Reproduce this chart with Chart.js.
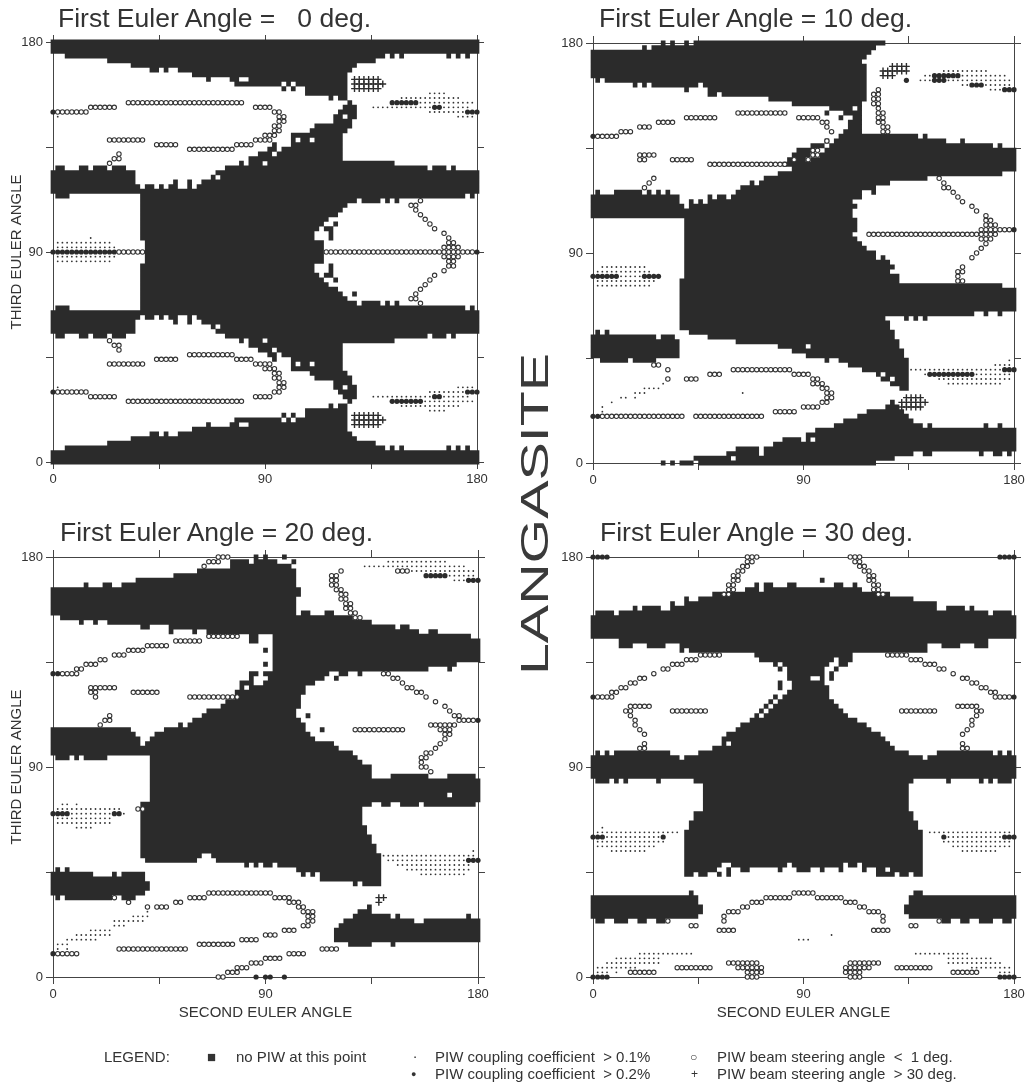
<!DOCTYPE html>
<html>
<head>
<meta charset="utf-8">
<title>Langasite PIW</title>
<script src="https://cdn.jsdelivr.net/npm/chart.js@4"></script>
<style>
  body { margin: 0; background: #fff; width: 1032px; height: 1086px; position: relative; overflow: hidden;
         font-family: "Liberation Sans", Arial, sans-serif; color: #333; filter: blur(0.4px); }
  canvas { position: absolute; }
  .head { position: absolute; font-size: 26.5px; line-height: 30px; white-space: pre; }
  .side { position: absolute; left: 535px; top: 513.5px; font-size: 38px; line-height: 38px; white-space: pre; color: #3a3a3a;
          transform: translate(-50%, -50%) rotate(-90deg) scaleX(1.51); }
  .key { position: absolute; font-size: 15px; line-height: 14px; white-space: pre; }
</style>
</head>
<body>
<div class="head" style="left:58px;top:3px">First Euler Angle =   0 deg.</div>
<div class="head" style="left:599px;top:3px">First Euler Angle = 10 deg.</div>
<div class="head" style="left:60px;top:517px">First Euler Angle = 20 deg.</div>
<div class="head" style="left:600px;top:517px">First Euler Angle = 30 deg.</div>
<div class="side">LANGASITE</div>
<div class="key" style="left:104px;top:1050px">LEGEND:</div>
<div class="key" style="left:207px;top:1050px">■</div>
<div class="key" style="left:236px;top:1050px">no PIW at this point</div>
<div class="key" style="left:413px;top:1046px">.</div>
<div class="key" style="left:435px;top:1050px">PIW coupling coefficient  &gt; 0.1%</div>
<div class="key" style="left:411px;top:1067px;font-size:9px">●</div>
<div class="key" style="left:435px;top:1067px">PIW coupling coefficient  &gt; 0.2%</div>
<div class="key" style="left:690px;top:1050px;font-size:12px">○</div>
<div class="key" style="left:717px;top:1050px">PIW beam steering angle  &lt;  1 deg.</div>
<div class="key" style="left:691px;top:1067px;font-size:12px">+</div>
<div class="key" style="left:717px;top:1067px">PIW beam steering angle  &gt; 30 deg.</div>
<canvas id="p0"></canvas>
<canvas id="p1"></canvas>
<canvas id="p2"></canvas>
<canvas id="p3"></canvas>
<script>
const labeledAngles = [0, 90, 180];

// no PIW cells: [third from, third to, second start, second end, start, end ...], cells every 2 deg
const dark0 = [
  [180,176,-1,181],[174,174,5,141,143,145,147,149,167,169,171,173,175,177],[172,172,23,137],[170,170,33,129],
  [168,168,41,45,47,49,53,127],[166,166,59,125],[164,164,65,67,75,79,83,125],[162,162,77,97,99,101,103,125],
  [160,160,97,99,101,103,107,125],[158,158,107,125],[156,156,117,119,121,125],[154,154,125,127],[152,152,123,129],
  [150,150,121,129],[148,148,119,123,125,129],[146,146,119,127],[144,144,111,127],[142,142,109,125],[140,140,101,123],
  [138,138,101,103,105,109,111,123],[136,136,93,95,101,123],[134,134,91,95,97,123],[132,132,87,93,95,123],[130,130,83,123],
  [128,128,79,81,83,89,91,145],[126,126,1,5,11,15,17,23,25,31,73,159,161,167,169,171],[124,124,-1,35,69,181],
  [122,122,-1,35,67,69,71,181],[120,120,-1,35,51,53,57,59,63,181],[118,118,-1,37,39,43,45,47,49,53,57,59,61,181],
  [116,116,-1,181],[114,114,1,7,37,175,177,179],[112,112,37,129,131,139,141,143,145,147],[110,110,37,125],[108,108,37,123],
  [106,106,37,121],[104,104,37,117],[102,102,37,115,119,121],[100,100,37,113,115,119],[98,96,37,111,117,119],[94,86,39,115],
  [84,82,37,111,117,119],[80,80,37,113,115,119],[78,78,37,115,119,121],[76,76,37,117],[74,74,37,121],[72,72,37,123,127,129],
  [70,70,37,125],[68,68,37,129,131,139,141,143,145,147],[66,66,1,7,37,175,177,179],[64,64,-1,181],
  [62,62,-1,37,39,43,45,47,49,53,57,59,61,181],[60,60,-1,35,51,53,57,59,63,181],[58,58,-1,35,67,69,71,181],[56,56,-1,35,69,181],
  [54,54,1,5,11,15,17,23,25,31,73,159,161,167,169,171],[52,52,79,81,83,89,91,145],[50,50,83,123],[48,48,87,93,95,123],
  [46,46,91,95,97,123],[44,44,93,95,101,123],[42,42,101,103,105,109,111,123],[40,40,101,123],[38,38,109,125],[36,36,111,127],
  [34,34,119,127],[32,32,119,123,125,129],[30,30,121,129],[28,28,123,129],[26,26,125,127],[24,24,117,119,121,125],[22,22,107,125],
  [20,20,97,99,101,103,107,125],[18,18,77,97,99,101,103,125],[16,16,65,67,75,79,83,125],[14,14,59,125],[12,12,41,45,47,49,53,127],
  [10,10,33,129],[8,8,23,137],[6,6,5,141,143,145,147,149,167,169,171,173,175,177],[4,0,-1,181]
];
const dark1 = [
  [180,180,29,31,33,35,39,41,43,125],[178,178,21,23,25,121],[176,176,-1,119],[174,174,-1,117],[172,172,-1,115],[170,166,-1,117],
  [164,164,1,3,5,117],[162,162,17,19,21,23,25,45,47,117],[160,160,39,41,49,117],[158,158,49,53,55,117],[156,156,75,117],
  [154,154,85,115],[152,152,101,111,113,115],[150,150,99,101,107,115],[148,148,105,107,111,115],[146,144,109,115],[142,142,107,115],
  [140,140,105,139,141,143],[138,138,99,101,103,151,157,159],[136,136,93,99,101,171,173,175],[134,134,87,95,99,181],
  [132,132,85,93,97,181],[130,130,83,91,93,181],[128,128,81,181],[126,126,85,181],[124,124,79,175],[122,122,73,143],
  [120,120,67,69,71,127],[118,118,63,121],[116,116,1,3,9,21,23,25,27,29,31,33,61,115,119,121],[114,114,-1,37,49,51,53,57,59,115],
  [112,112,-1,37,41,43,45,47,49,111],[110,110,-1,39,41,113],[108,106,-1,111],[104,100,39,113],[98,98,39,111],[96,96,39,113],
  [94,94,39,115],[92,92,39,117],[90,90,39,121],[88,88,39,121,123,125],[86,86,39,127],[84,84,39,129],[82,82,39,127],[80,80,39,131],
  [78,78,37,131],[76,76,37,175],[74,66,37,181],[64,64,37,163,167,169,173,175],[62,62,37,125,133,135,137,139,141,143],[60,58,37,127],
  [56,56,1,3,5,7,41,129],[54,54,-1,27,29,35,49,129],[52,52,-1,37,61,131],[50,50,-1,37,79,91,93,131],[48,48,-1,37,85,133],
  [46,46,-1,37,91,133],[44,44,3,15,17,27,99,101,105,135],[42,42,109,135],[40,40,115,135],[38,38,121,123,125,135],
  [36,36,123,127,129,135],[34,34,127,135],[32,32,131,135],[26,26,127,129],[24,24,125,131],[22,22,117,133],[20,20,113,135],
  [18,18,107,137],[16,16,103,141,143,145,167,169,173,175],[14,14,95,181],[12,12,91,181],[10,10,81,89,91,93,95,181],[8,8,77,181],
  [6,6,61,71,73,181],[4,4,57,71,73,137,141,145,165,167,171,175,177,179],[2,2,43,59,61,129],[0,0,29,31,33,35,37,43,45,121]
];
const dark2 = [
  [180,180,85,87,89,91,97,99],[178,178,75,83,85,95,101,103],[176,176,75,101],[174,174,61,103],[172,172,51,103],[170,170,35,103],
  [168,168,13,15,21,25,29,103],[166,164,-1,105],[162,158,-1,103],[156,156,-1,103,105,109,115,119],[154,154,3,127],
  [152,152,11,13,17,19,23,135],[150,150,37,41,49,145,147,151],[148,148,49,51,59,61,65,155,159,163],[146,146,83,87,93,177],
  [144,144,83,87,93,181],[142,142,93,181],[140,140,89,91,93,181],[138,136,93,181],[134,134,89,91,93,171],[132,132,93,159,167,169],
  [130,130,83,87,89,117,121,125,129,131],[128,128,83,85,91,115,119,121],[126,126,79,85,89,111],[124,124,79,81,83,107],[122,122,77,107],
  [120,120,77,105],[118,118,73,105],[116,116,71,105],[114,114,65,103],[112,112,63,103,107,109],[110,110,59,105],[108,108,53,55,57,107],
  [106,106,-1,33,47,107,113,115],[104,104,-1,35,43,109],[102,102,-1,37,41,111],[100,100,-1,37,39,119],[98,98,-1,121],[96,96,-1,127],
  [94,94,1,7,9,11,13,23,41,129],[92,92,41,131],[90,88,41,135],[86,86,41,135,143,159,167,179],[84,80,41,181],[78,78,41,167,169,181],
  [76,76,41,181],[74,74,37,135,139,143,147,155,157,179],[72,66,37,131],[64,62,37,133],[60,58,37,135],[56,54,37,137],
  [52,52,37,63,67,139],[50,50,39,61,69,139],[48,48,81,83,85,87,89,93,95,139],[46,46,1,3,5,7,103,139],
  [44,44,-1,17,25,27,29,39,105,107,109,111,113,139],[42,42,-1,39,113,139],[40,40,-1,41,127,129,131,139],[38,38,-1,41],[36,36,-1,39],
  [34,34,1,3,5,25,29,35],[30,30,133,135],[28,28,129,135],[26,26,127,143,145,147,175,177],[24,24,123,153,157,181],[22,22,121,181],
  [20,16,119,181],[14,14,125,135,143,145]
];
const dark3 = [
  [170,170,97,99],[168,168,69,71,73,77,83,87,103,107,111,113],[166,166,65,71,73,115],[164,164,51,127],[162,162,39,41,45,137],
  [160,160,33,35,39,147],[158,158,17,19,21,29,33,147,151,159,161,163],[156,156,1,9,11,169,171,179],[154,146,-1,181],[144,144,11,169],
  [142,142,11,17,23,31,37,143,149,157,163,169],[140,140,37,39,41,143],[138,138,69,111],[136,136,71,103,105,111],
  [134,134,77,79,81,101,105,109],[132,132,79,81,83,99,103,105],[130,130,83,99,101,103],[128,128,83,93,97,99,101,103],
  [126,126,79,81,85,99],[124,124,79,81,85,101],[122,122,83,101],[120,120,77,79,81,101],[118,118,75,77,79,103],[116,116,73,75,77,105],
  [114,114,71,73,75,107],[112,112,69,71,73,109],[110,110,67,113],[108,108,63,117],[106,106,61,119],[104,104,57,123],[102,102,55,125],
  [100,100,55,57,59,127],[98,98,51,129],[96,96,1,3,5,7,9,33,45,135,147,171,173,175,177,179],[94,94,-1,37,39,141,143,181],[92,86,-1,181],
  [84,84,1,7,9,11,13,15,27,29,43,137,151,153,165,167,169,171,173,179],[82,72,47,135],[70,68,43,137],[66,64,41,139],[62,50,39,141],
  [48,48,39,55,59,83,85,107,109,113,115,141],[46,46,39,53,57,59,63,67,79,81,87,93,97,99,105,107,115,117,121,125,127,141],
  [44,44,39,43,45,49,53,55,57,59,121,129,131,135,137,141],[36,36,41,43,137,141],[34,32,-1,45,135,181],[30,28,-1,47,133,181],
  [26,26,-1,45,135,181],[24,24,1,5,9,15,19,23,27,31,149,153,157,161,165,171,175,179]
];

// beam steering < 1 deg: [third, second from, second to, from, to ...], a mark every 2 deg
const open0 = [
  [154,32,80],[152,16,26],[152,86,92],[150,2,14],[150,94,96],[148,96,98],[146,96,98],[144,94,96],[142,94,96],[140,90,94],[138,24,38],
  [138,86,92],[136,44,52],[136,78,84],[134,58,76],[132,28,28],[130,26,28],[128,24,24],[112,156,156],[110,152,154],[108,154,154],
  [106,156,156],[104,158,158],[102,160,160],[100,162,162],[98,166,166],[96,168,168],[94,168,170],[92,166,172],[90,28,38],[90,116,178],
  [88,166,172],[86,168,170],[84,168,170],[82,166,166],[80,162,162],[78,160,160],[76,158,158],[74,156,156],[72,154,154],[70,152,154],
  [68,156,156],[52,24,24],[50,26,28],[48,28,28],[46,58,76],[44,44,52],[44,78,84],[42,24,38],[42,86,92],[40,90,94],[38,94,96],[36,94,96],
  [34,96,98],[32,96,98],[30,2,14],[30,94,96],[28,16,26],[28,86,92],[26,32,80]
];
const open1 = [
  [160,122,122],[158,120,122],[156,120,122],[154,120,122],[152,122,122],[150,62,82],[150,122,124],[148,40,52],[148,88,96],[148,122,124],
  [146,28,34],[146,98,100],[146,122,124],[144,20,24],[144,100,100],[144,124,126],[142,12,16],[142,102,102],[142,124,126],[140,2,10],
  [138,100,100],[134,94,96],[132,20,26],[132,94,96],[130,20,22],[130,34,42],[130,86,86],[130,92,92],[128,50,82],[122,26,26],[122,148,148],
  [120,24,24],[120,150,150],[118,22,22],[118,150,152],[116,154,154],[114,156,156],[112,158,158],[110,162,162],[108,164,164],[106,168,168],
  [104,168,170],[102,168,172],[100,166,178],[98,118,172],[96,166,170],[94,168,168],[92,166,166],[90,164,164],[88,162,162],[84,158,158],
  [82,156,158],[80,156,156],[78,156,158],[42,26,28],[40,32,32],[40,60,84],[38,50,54],[38,86,92],[36,32,32],[36,40,44],[36,94,96],[34,94,98],
  [32,98,100],[30,100,102],[28,100,102],[26,98,100],[24,90,96],[22,78,86],[20,4,38],[20,44,72]
];
const open2 = [
  [180,70,74],[178,66,70],[176,64,64],[174,122,122],[174,146,150],[172,118,120],[170,118,120],[168,118,120],[166,120,122],[164,122,124],
  [162,122,124],[160,124,126],[158,124,126],[156,126,128],[154,128,130],[146,66,78],[144,52,62],[142,40,48],[140,32,38],[138,26,30],
  [136,20,22],[134,14,18],[132,10,12],[130,4,10],[130,140,142],[128,144,146],[126,148,148],[124,16,26],[124,150,152],[122,16,18],[122,34,44],
  [122,154,156],[120,18,18],[120,58,78],[120,158,158],[118,162,162],[116,166,166],[114,168,168],[112,24,24],[112,170,172],[110,22,24],
  [110,172,178],[108,20,20],[108,160,170],[106,128,148],[106,164,168],[104,166,168],[102,166,166],[100,164,164],[98,162,162],[96,158,160],
  [94,156,158],[92,156,156],[90,156,158],[88,160,160],[72,36,38],[36,66,92],[34,26,26],[34,58,64],[34,94,100],[32,32,32],[32,52,54],
  [32,100,104],[30,40,40],[30,44,48],[30,104,106],[28,106,110],[26,108,110],[24,108,110],[22,106,108],[20,98,102],[18,90,94],[16,80,86],
  [14,62,76],[12,28,56],[12,114,120],[10,2,10],[10,100,106],[8,90,96],[6,84,88],[4,78,82],[2,74,78],[0,70,72]
];
const open3 = [
  [180,66,70],[180,110,114],[178,66,68],[178,112,114],[176,64,66],[176,114,116],[174,62,64],[174,116,118],[172,60,62],[172,118,120],
  [170,60,62],[170,118,120],[168,58,60],[168,120,122],[166,58,60],[166,120,122],[164,56,58],[164,122,124],[138,46,54],[138,126,134],
  [136,40,44],[136,136,140],[134,34,38],[134,142,146],[132,30,32],[132,148,150],[130,26,26],[130,154,154],[128,20,22],[128,158,160],
  [126,16,18],[126,162,164],[124,12,14],[124,166,168],[122,8,10],[122,170,172],[120,2,8],[120,172,178],[116,16,24],[116,156,164],
  [114,14,16],[114,34,48],[114,132,146],[114,164,166],[112,16,16],[112,164,164],[110,18,18],[110,162,162],[108,18,18],[108,162,162],
  [106,20,20],[106,160,160],[104,22,22],[104,158,158],[100,22,22],[100,158,158],[98,20,22],[98,158,160],[36,86,94],[34,74,84],[34,96,106],
  [32,68,72],[32,108,112],[30,64,66],[30,114,116],[28,58,62],[28,118,122],[26,56,56],[26,124,124],[24,32,32],[24,56,56],[24,124,124],
  [24,148,148],[22,42,44],[22,136,138],[20,54,60],[20,120,126],[6,58,70],[6,110,122],[4,36,50],[4,62,72],[4,108,118],[4,130,144],
  [2,16,26],[2,66,72],[2,108,114],[2,154,164],[0,66,70],[0,110,114]
];

// coupling coefficient > 0.2%
const solid0 = [[154,144,154],[152,162,164],[150,0,0],[150,176,180],[90,0,26],[90,180,180],[30,0,0],[30,176,180],[28,162,164],[26,144,156]];
const solid1 = [[166,146,156],[164,134,134],[164,146,150],[162,162,166],[160,176,180],[140,0,0],[100,180,180],[80,0,10],[80,22,28],[40,176,180],[38,144,162],[20,0,2]];
const solid2 = [[172,158,166],[170,176,180],[130,0,2],[110,180,180],[70,0,6],[70,26,28],[50,176,180],[10,0,0],[0,86,86],[0,90,92],[0,98,98]];
const solid3 = [[180,0,6],[180,174,180],[120,0,0],[120,180,180],[60,0,4],[60,30,30],[60,150,150],[60,176,180],[0,0,6],[0,174,180]];

// coupling coefficient > 0.1%
const fine0 = [
  [158,160,166],[156,148,172],[154,156,178],[152,136,160],[152,166,176],[150,160,174],[148,2,2],[148,172,178],[96,16,16],[94,2,24],[92,2,26],
  [88,2,26],[86,2,24],[32,2,2],[32,172,178],[30,160,174],[28,136,160],[28,166,176],[26,158,178],[24,148,172],[22,160,166]
];
const fine1 = [
  [168,150,168],[166,142,144],[166,158,176],[164,140,144],[164,152,178],[162,158,160],[162,168,178],[160,170,174],[84,4,22],[82,2,24],[80,12,20],
  [78,2,26],[76,2,24],[44,178,178],[42,172,178],[40,136,174],[38,142,142],[38,164,178],[36,148,178],[34,30,30],[34,152,174],[32,22,28],[30,18,22],
  [30,64,64],[28,12,14],[28,18,18],[26,8,8],[24,4,4],[22,4,4]
];
const fine2 = [
  [178,142,166],[176,132,174],[174,152,178],[172,168,178],[170,170,174],[74,4,6],[74,10,10],[72,2,28],[70,8,24],[70,30,30],[68,2,24],[66,2,24],
  [64,10,16],[54,178,178],[52,140,178],[50,142,174],[48,146,176],[46,150,176],[44,156,174],[28,40,40],[26,34,40],[24,26,38],[22,26,30],[20,16,24],
  [18,10,24],[16,6,18],[14,2,6],[12,2,2],[12,6,6]
];
const fine3 = [
  [64,4,4],[62,2,36],[62,144,178],[60,6,28],[60,152,174],[58,2,30],[58,150,178],[56,2,26],[56,154,178],[54,8,22],[54,158,172],[18,102,102],
  [16,88,92],[10,20,42],[10,138,160],[8,10,28],[8,152,170],[6,6,28],[6,152,174],[4,2,18],[4,162,178],[2,2,6],[2,10,10],[2,174,178]
];

// beam steering > 30 deg
const plus0 = [[164,128,138],[162,128,140],[160,128,138],[20,128,138],[18,128,140],[16,128,138]];
const plus1 = [[170,128,134],[168,124,134],[166,124,128],[28,134,140],[26,132,142],[24,132,140]];
const plus2 = [[34,138,140],[32,138,138]];
const plus3 = [];

const ink = '#2b2b2b';
Chart.defaults.font.family = '"Liberation Sans", Arial, sans-serif';
Chart.defaults.color = '#333';

function cellRuns(rows) {
  const out = [];
  rows.forEach(r => {
    for (let y = r[0]; y >= r[1]; y -= 2) {
      for (let i = 2; i < r.length; i += 2) {
        out.push({x: r[i], y: y}, {x: r[i + 1], y: y}, {x: null, y: null});
      }
    }
  });
  return out;
}

function markRuns(rows) {
  const out = [];
  rows.forEach(r => {
    for (let i = 1; i < r.length; i += 2) {
      for (let x = r[i]; x <= r[i + 1]; x += 2) out.push({x: x, y: r[0]});
    }
  });
  return out;
}

function axis(pos, size, labelled, title) {
  return {
    type: 'linear',
    position: pos,
    axis: (pos === 'left' || pos === 'right') ? 'y' : 'x',
    min: 0,
    max: 180,
    afterFit: s => { if (pos === 'left' || pos === 'right') s.width = size; else s.height = size; },
    grid: {drawOnChartArea: false, tickLength: 7, color: '#444', tickColor: '#444'},
    border: {color: '#444', width: 1},
    ticks: {
      stepSize: 45,
      autoSkip: false,
      maxRotation: 0,
      padding: 3,
      font: {size: 13},
      callback: v => (labelled && labeledAngles.includes(v)) ? v : ''
    },
    title: title ? {display: true, text: title, font: {size: 15}, color: '#333', padding: {top: 8, bottom: 10}} : {display: false}
  };
}

function panel(id, left, top, w, h, yTitle, xTitle, dark, open, solid, fine, plus) {
  const cv = document.getElementById(id);
  cv.width = w + 53 + 18;
  cv.height = h + 13 + 55;
  cv.style.left = (left - 53) + 'px';
  cv.style.top = (top - 13) + 'px';
  new Chart(cv, {
    type: 'scatter',
    data: {datasets: [
      {data: cellRuns(dark), showLine: true, pointRadius: 0, borderColor: ink, borderWidth: 5, borderCapStyle: 'butt', clip: false, order: 5},
      {data: markRuns(open), pointStyle: 'circle', pointRadius: 2.2, borderWidth: 1.1, borderColor: '#333', backgroundColor: '#fff', clip: false, order: 4},
      {data: markRuns(fine), pointStyle: 'circle', pointRadius: 0.9, borderWidth: 0, backgroundColor: '#333', clip: false, order: 3},
      {data: markRuns(solid), pointStyle: 'circle', pointRadius: 2.6, borderWidth: 0, backgroundColor: ink, clip: false, order: 2},
      {data: markRuns(plus), pointStyle: 'cross', pointRadius: 3.4, borderWidth: 1.4, borderColor: ink, clip: false, order: 1}
    ]},
    options: {
      responsive: false,
      animation: false,
      events: [],
      layout: {padding: 0},
      plugins: {legend: {display: false}, tooltip: {enabled: false}},
      scales: {
        x: axis('bottom', 55, true, xTitle),
        y: axis('left', 53, true, yTitle),
        x2: axis('top', 13, false, ''),
        y2: axis('right', 18, false, '')
      }
    }
  });
}

panel('p0', 53, 42, 424, 420, 'THIRD EULER ANGLE', '', dark0, open0, solid0, fine0, plus0);
panel('p1', 593, 43, 421, 420, '', '', dark1, open1, solid1, fine1, plus1);
panel('p2', 53, 557, 425, 420, 'THIRD EULER ANGLE', 'SECOND EULER ANGLE', dark2, open2, solid2, fine2, plus2);
panel('p3', 593, 557, 421, 420, '', 'SECOND EULER ANGLE', dark3, open3, solid3, fine3, plus3);
</script>
</body>
</html>
